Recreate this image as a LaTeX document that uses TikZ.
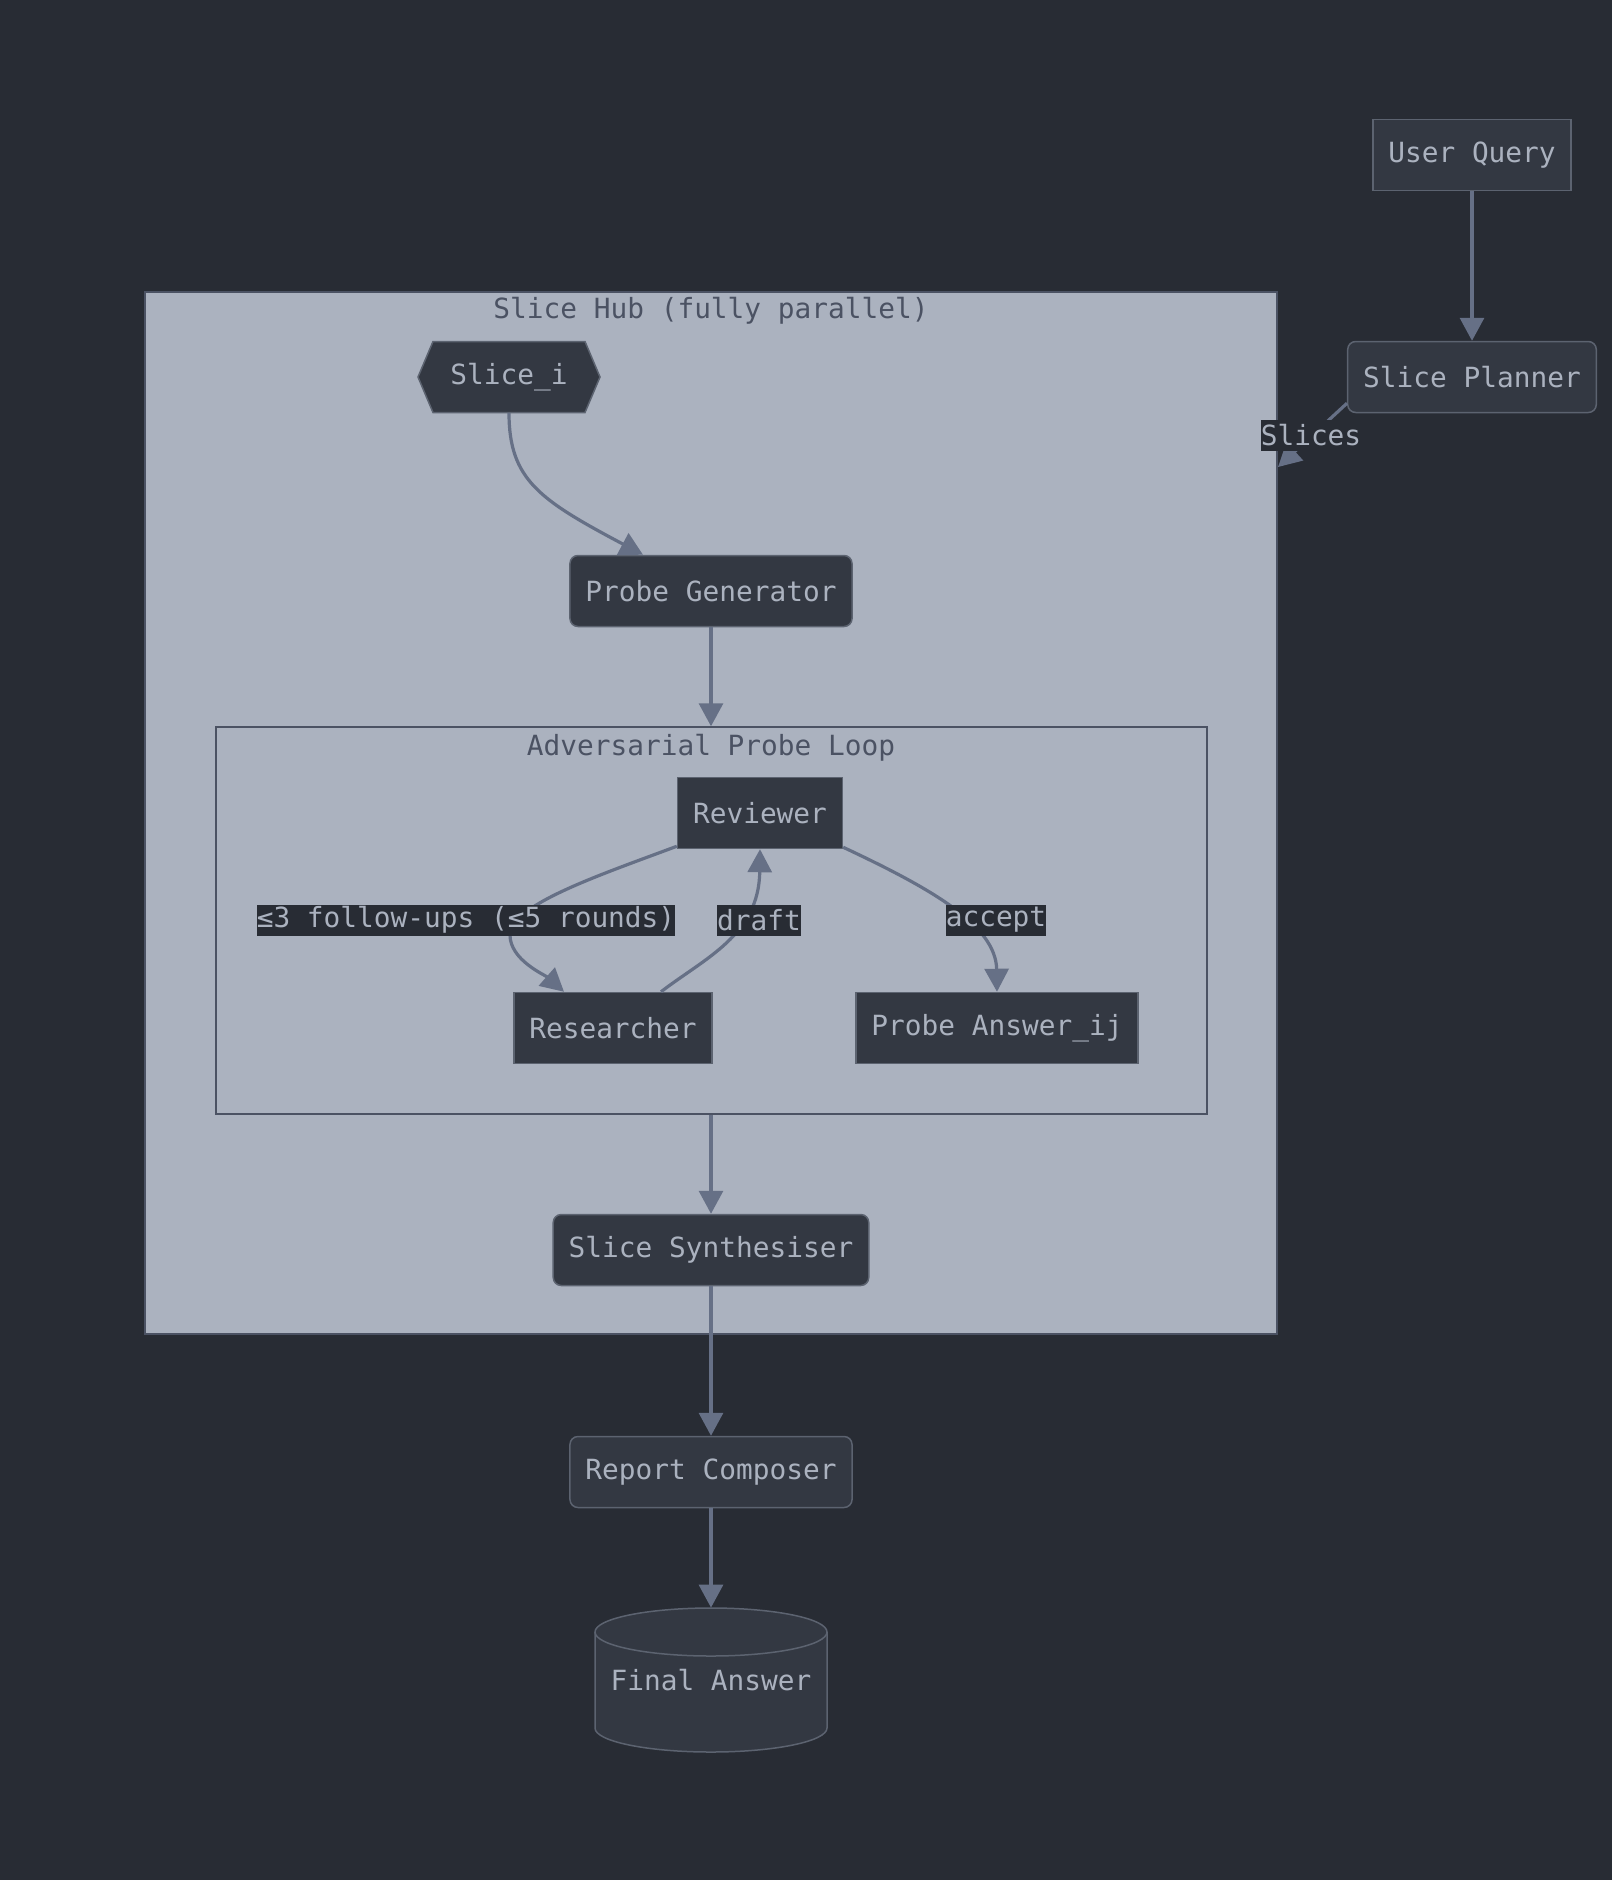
\documentclass[tikz,border=0pt]{standalone}
\usepackage{fontspec}
\setmonofont{DejaVu Sans Mono}
\usetikzlibrary{arrows.meta,positioning}

\definecolor{shBack}{HTML}{282C34}
\definecolor{shNode}{HTML}{333842}
\definecolor{shLine}{HTML}{5C6370}
\definecolor{shText}{HTML}{ABB2BF}
\definecolor{shHub}{HTML}{ABB2BF}
\definecolor{shFrame}{HTML}{4B5263}
\definecolor{shEdge}{HTML}{667086}

\begin{document}
\begin{tikzpicture}[
  x=.5pt, y=-.5pt, font=\ttfamily\fontsize{13.9}{16}\selectfont, text=shText,
  sh plain/.style={inner xsep=7.75pt,inner ysep=0pt,minimum height=35.5pt},
  sh box/.style={sh plain,draw=shLine,fill=shNode,line width=.75pt},
  sh round/.style={sh box,rounded corners=4pt},
  sh shape/.style={draw=shLine,fill=shNode,line width=.75pt},
  sh cluster/.style={draw=shFrame,fill=shHub,line width=.75pt,inner sep=0pt},
  sh title/.style={text=shFrame,inner sep=0pt},
  sh label/.style={fill=shBack,text=shText,inner sep=0pt,minimum height=15.5pt},
  sh flow/.style={draw=shEdge,line width=1.6pt,-{Triangle[length=11.5pt,width=12pt]}}
]
% Canvas, measured in pixels of the reference.
\useasboundingbox (0,0) rectangle (1612,1880);
\fill[shBack] (0,0) rectangle (1612,1880);

% Shape centres that are drawn by hand.
\def\xSl{509}  % Slice_i hexagon
\def\ySl{377}
\def\xFa{711}  % Final Answer cylinder
\def\yFa{1680}

% Clusters.
\node[sh cluster,minimum width=566pt,minimum height=521pt] (hub) at (711,813) {};
\node[sh title] (hubTitle) at (711,311) {Slice Hub (fully parallel)};
\node[sh cluster,minimum width=495.5pt,minimum height=193.5pt] (loop) at (711.5,920.5) {};
\node[sh title] (loopTitle) at (711,748) {Adversarial Probe Loop};

% Outside nodes.
\node[sh box] (query) at (1472,155) {User Query};
\node[sh round] (planner) at (1472,377) {Slice Planner};

% Hexagon and cylinder outlines, then their texts.
\filldraw[sh shape] ({\xSl-91},\ySl) -- ({\xSl-76},{\ySl-35.5})
  -- ({\xSl+76},{\ySl-35.5}) -- ({\xSl+91},\ySl)
  -- ({\xSl+76},{\ySl+35.5}) -- ({\xSl-76},{\ySl+35.5}) -- cycle;
\node[sh plain,minimum width=76pt] (slice) at (\xSl,\ySl) {Slice\_i};
\filldraw[sh shape] ({\xFa-116},{\yFa-48}) -- ({\xFa-116},{\yFa+48})
  arc[start angle=180,end angle=360,x radius=58pt,y radius=12pt]
  -- ({\xFa+116},{\yFa-48})
  arc[start angle=0,end angle=180,x radius=58pt,y radius=12pt] -- cycle;
\draw[sh shape,fill=none] ({\xFa-116},{\yFa-48})
  arc[start angle=180,end angle=360,x radius=58pt,y radius=12pt];
\node[sh plain,minimum width=116pt,minimum height=72pt] (final) at (\xFa,\yFa) {Final Answer};

% Hub nodes.
\node[sh round] (pgen) at (711,591) {Probe Generator};
\node[sh box] (rev) at (760,813) {Reviewer};
\node[sh box] (res) at (613,1028) {Researcher};
\node[sh box] (ans) at (997,1028) {Probe Answer\_ij};
\node[sh round] (synth) at (711,1250) {Slice Synthesiser};
\node[sh round] (report) at (711,1472) {Report Composer};

% Connectors.
\coordinate (hubIn) at (1278,467);
\draw[sh flow] (query) -- (planner);
\draw[sh flow] ([yshift=5pt]planner.south west) -- (hubIn);
\draw[sh flow] (slice.south) .. controls (509,480) and (540,500)
  .. ([xshift=-34pt]pgen.north);
\draw[sh flow] (pgen.south) -- (pgen.south |- loop.north);
\draw[sh flow] ([yshift=1.5pt]rev.south west) .. controls (600,875) and (510,905)
  .. (510,935) .. controls (510,960) and (545,975) .. ([xshift=-24.5pt]res.north);
\draw[sh flow] ([xshift=24pt]res.north) .. controls (705,958) and (759,935)
  .. (rev.south);
\draw[sh flow] ([yshift=1pt]rev.south east) .. controls (930,888) and (996,925)
  .. (ans.north);
\draw[sh flow] (loop.south -| synth.north) -- (synth.north);
\draw[sh flow] (synth) -- (report);
\draw[sh flow] (report) -- (final);

% Edge labels.
\node[sh label] (lbSlices) at (1311,435) {Slices};
\node[sh label] (lbFollow) at (466,920) {≤3 follow-ups (≤5 rounds)};
\node[sh label] (lbDraft) at (759,920) {draft};
\node[sh label] (lbAccept) at (996,920) {accept};
\end{tikzpicture}
\end{document}
